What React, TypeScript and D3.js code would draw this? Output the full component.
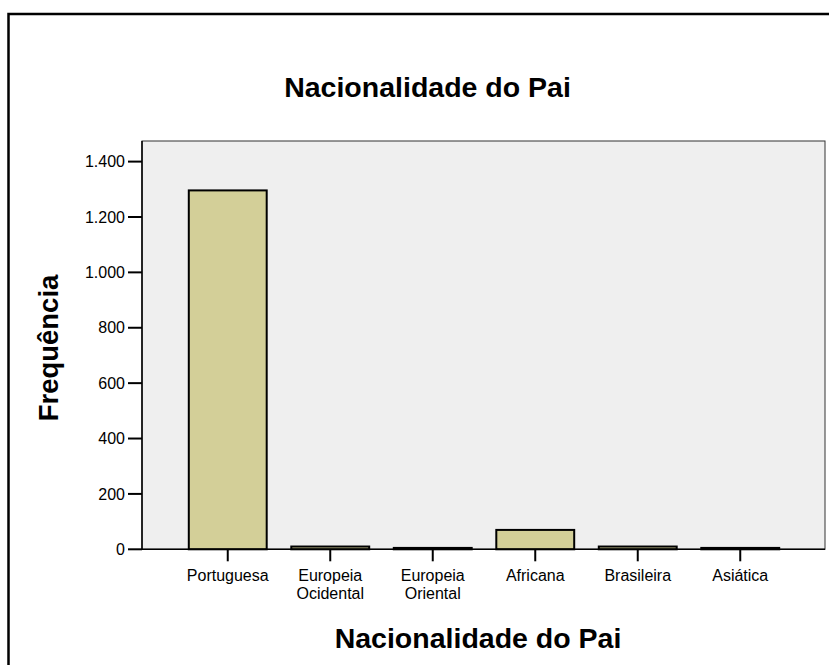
import React from "react";
import * as d3 from "d3";

const categories = ["Portuguesa", "Europeia\nOcidental", "Europeia\nOriental", "Africana", "Brasileira", "Asiática"];
const values = [1296, 10, 5, 70, 10, 5];
const yTicks = [0, 200, 400, 600, 800, 1000, 1200, 1400];
const title = "Nacionalidade do Pai";
const xTitle = "Nacionalidade do Pai";
const yTitle = "Frequência";

const W = 829, H = 665;
const plot = { left: 142, right: 825, top: 141, bottom: 549.3 };

export default function App() {
  const x = d3.scaleBand<string>().domain(categories).range([176.5, 791.5]).paddingInner(0.24).paddingOuter(0.12);
  const y = d3.scaleLinear().domain([0, 1400]).range([plot.bottom, 161.6]);
  const loc = d3.formatLocale({ decimal: ",", thousands: ".", grouping: [3], currency: ["", ""] });
  const fmt = loc.format(",d");
  const font = "'Liberation Sans', Arial, sans-serif";
  return (
    <svg width={W} height={H} style={{ position: "absolute", left: 0, top: 0, background: "#fff" }} fontFamily={font}>
      <rect x={8.5} y={14} width={W + 20} height={H + 20} fill="#fff" stroke="#000" strokeWidth={2.5} />
      <text x={427.5} y={96.5} textAnchor="middle" fontSize={28.5} fontWeight="bold">{title}</text>
      <rect x={plot.left} y={plot.top} width={plot.right - plot.left} height={plot.bottom - plot.top} fill="#EFEFEF" stroke="#333" strokeWidth={1} />
      {categories.map((c, i) => {
        const bx = x(c)!;
        const by = y(values[i]);
        return (
          <rect key={c} x={bx} y={by} width={x.bandwidth()} height={plot.bottom - by} fill="#D3CF98" stroke="#000" strokeWidth={2} />
        );
      })}
      <line x1={plot.left} x2={plot.left} y1={plot.top} y2={plot.bottom} stroke="#000" strokeWidth={1.5} />
      <line x1={plot.left} x2={plot.right} y1={plot.bottom} y2={plot.bottom} stroke="#000" strokeWidth={1.5} />
      {yTicks.map((t) => (
        <g key={t}>
          <line x1={plot.left - 14} x2={plot.left} y1={y(t)} y2={y(t)} stroke="#000" strokeWidth={2} />
          <text x={plot.left - 17} y={y(t)} dy="0.35em" textAnchor="end" fontSize={16}>{fmt(t)}</text>
        </g>
      ))}
      {categories.map((c) => {
        const cx = x(c)! + x.bandwidth() / 2;
        const lines = c.split("\n");
        return (
          <g key={c}>
            <line x1={cx} x2={cx} y1={plot.bottom} y2={plot.bottom + 12} stroke="#000" strokeWidth={2} />
            {lines.map((l, j) => (
              <text key={j} x={cx} y={580.5 + j * 18} textAnchor="middle" fontSize={16}>{l}</text>
            ))}
          </g>
        );
      })}
      <text x={478} y={648} textAnchor="middle" fontSize={28.5} fontWeight="bold">{xTitle}</text>
      <text transform={`translate(57.5,348) rotate(-90)`} textAnchor="middle" fontSize={27.5} fontWeight="bold">{yTitle}</text>
    </svg>
  );
}
